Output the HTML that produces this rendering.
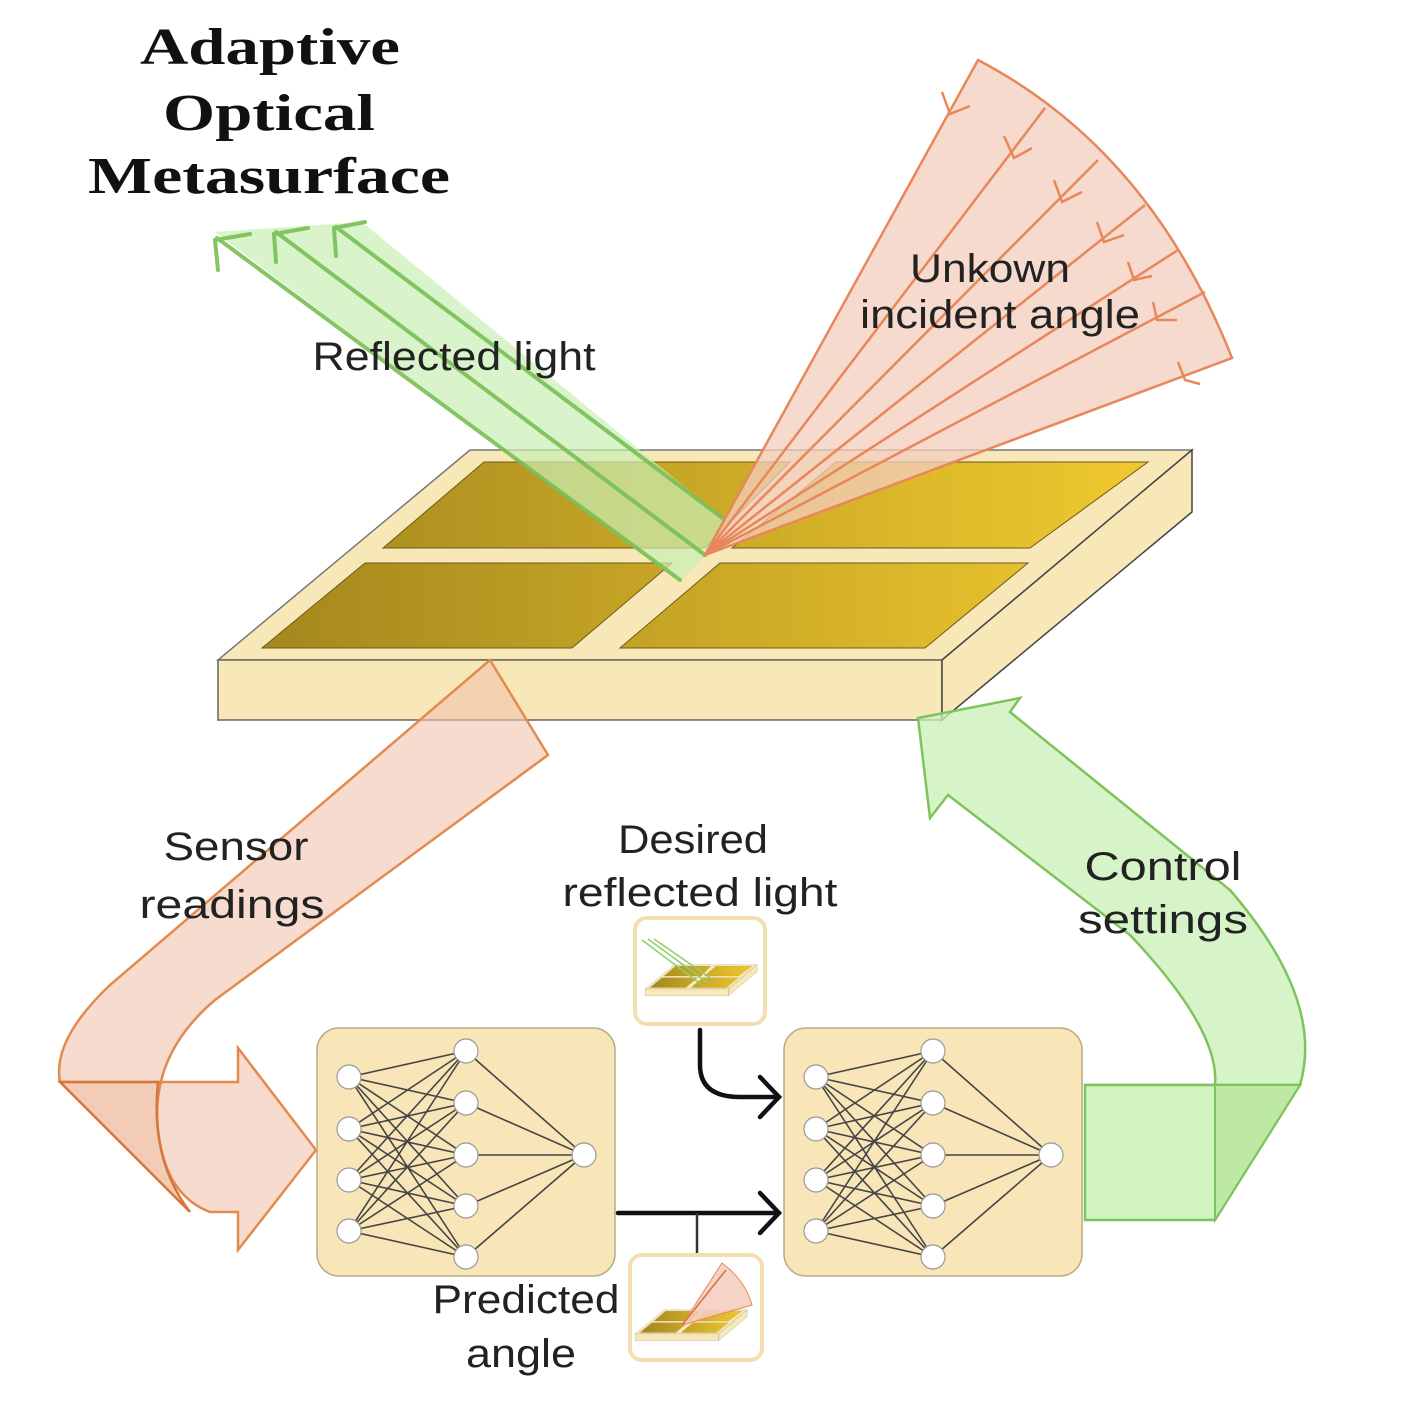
<!DOCTYPE html>
<html><head><meta charset="utf-8"><style>html,body{margin:0;padding:0;background:#fff}svg{display:block}</style></head>
<body>
<svg width="1401" height="1401" viewBox="0 0 1401 1401" xmlns="http://www.w3.org/2000/svg">
<defs>
<linearGradient id="goldU" x1="262" x2="1148" y1="0" y2="0" gradientUnits="userSpaceOnUse">
<stop offset="0" stop-color="#a4871e"/><stop offset="1" stop-color="#f0c92e"/></linearGradient>
<g id="slab">
<polygon points="470,450 1192,450 942,660 218,660" fill="#f8e7b7" stroke="#777" stroke-width="1.5"/>
<polygon points="218,660 942,660 942,720 218,720" fill="#f8e7b7" stroke="#666" stroke-width="1.5"/>
<polygon points="942,660 1192,450 1192,512 942,720" fill="#f8e7b7" stroke="#444" stroke-width="1.5"/>
<polygon points="484,462 790,462 705,548 383,548" fill="url(#goldU)" stroke="#6a5a20" stroke-width="1"/>
<polygon points="836,462 1148,462 1030,548 732,548" fill="url(#goldU)" stroke="#6a5a20" stroke-width="1"/>
<polygon points="365,563 672,563 572,648 262,648" fill="url(#goldU)" stroke="#6a5a20" stroke-width="1"/>
<polygon points="720,563 1028,563 925,648 620,648" fill="url(#goldU)" stroke="#6a5a20" stroke-width="1"/>
</g>
<g id="nn">
<rect x="317" y="1028" width="298" height="248" rx="22" fill="#f8e6b8" stroke="#b9ab85" stroke-width="1.5"/>
<path stroke="#444" stroke-width="1.6" fill="none" d="
M349,1077L466,1051M349,1077L466,1103M349,1077L466,1155M349,1077L466,1206M349,1077L466,1257
M349,1129L466,1051M349,1129L466,1103M349,1129L466,1155M349,1129L466,1206M349,1129L466,1257
M349,1180L466,1051M349,1180L466,1103M349,1180L466,1155M349,1180L466,1206M349,1180L466,1257
M349,1231L466,1051M349,1231L466,1103M349,1231L466,1155M349,1231L466,1206M349,1231L466,1257
M466,1051L584,1155M466,1103L584,1155M466,1155L584,1155M466,1206L584,1155M466,1257L584,1155"/>
<g fill="#fff" stroke="#999" stroke-width="1.2">
<circle cx="349" cy="1077" r="12"/><circle cx="349" cy="1129" r="12"/><circle cx="349" cy="1180" r="12"/><circle cx="349" cy="1231" r="12"/>
<circle cx="466" cy="1051" r="12"/><circle cx="466" cy="1103" r="12"/><circle cx="466" cy="1155" r="12"/><circle cx="466" cy="1206" r="12"/><circle cx="466" cy="1257" r="12"/>
<circle cx="584" cy="1155" r="12"/></g>
</g>
</defs>

<use href="#slab"/>

<!-- green reflected beam -->
<polygon points="215,232 362,222 725,520 705,555 680,582" fill="#c9efb5" fill-opacity="0.7"/>
<g stroke="#79bf55" stroke-width="4" fill="none" stroke-linecap="round" opacity="0.9">
<line x1="217" y1="238" x2="680" y2="580"/>
<line x1="276" y1="232" x2="705" y2="555"/>
<line x1="336" y1="227" x2="725" y2="520"/>
<polyline points="250,234 215,240 218,270"/>
<polyline points="308,228 274,234 276,262"/>
<polyline points="365,222 334,228 336,256"/>
</g>

<!-- orange fan -->
<path d="M705,555 L978,60 Q1150,150 1232,358 Z" fill="#f3cdbd" fill-opacity="0.75" stroke="#e8875a" stroke-width="2.5"/>
<g stroke="#e8875a" stroke-width="2.5" fill="none">
<line x1="705" y1="555" x2="1045" y2="108"/>
<line x1="705" y1="555" x2="1098" y2="160"/>
<line x1="705" y1="555" x2="1145" y2="205"/>
<line x1="705" y1="555" x2="1178" y2="250"/>
<line x1="705" y1="555" x2="1205" y2="292"/>
<polyline points="942,92 950,114 970,106"/>
<polyline points="1004,136 1014,158 1032,148"/>
<polyline points="1054,180 1062,202 1082,192"/>
<polyline points="1097,222 1104,242 1124,235"/>
<polyline points="1128,262 1134,280 1152,276"/>
<polyline points="1153,302 1157,320 1177,320"/>
<polyline points="1178,362 1185,380 1200,384"/>
</g>

<!-- sensor readings arrow -->
<path d="M490,660 L548,755 L215,1000 Q150,1055 158,1130 Q165,1195 210,1212 L238,1212 L238,1250 L316,1150 L238,1048 L238,1082 L60,1082 Q52,1040 110,985 Z" fill="#f0c3ae" fill-opacity="0.6" stroke="#e38a4e" stroke-width="2.5"/>
<path d="M60,1082 L158,1082 Q150,1160 190,1212 Z" fill="#e9a27c" fill-opacity="0.55" stroke="#d8763a" stroke-width="2.5"/>

<!-- NNs -->
<use href="#nn"/>
<use href="#nn" transform="translate(467,0)"/>

<!-- control settings arrow -->
<path d="M1085,1085 L1300,1085 Q1325,1000 1230,890 L1010,712 L1020,698 L918,718 L930,818 L948,795 L1130,935 Q1220,1030 1215,1085 Z" fill="#c9efb5" fill-opacity="0.75" stroke="#7cc45b" stroke-width="2.5"/>
<path d="M1085,1085 L1300,1085 L1215,1220 L1085,1220 Z" fill="#d2f2c0" stroke="#7cc45b" stroke-width="2.5"/>
<path d="M1215,1085 L1300,1085 L1215,1220 Z" fill="#bde9a3" stroke="#7cc45b" stroke-width="2"/>

<!-- connectors -->
<g stroke="#111" stroke-width="4.5" fill="none" stroke-linecap="round">
<path d="M700,1030 L700,1065 Q700,1097 740,1097 L778,1097"/>
<polyline points="760,1077 779,1097 760,1117"/>
<line x1="618" y1="1213" x2="779" y2="1213"/>
<polyline points="760,1193 779,1213 760,1233"/>
</g>
<line x1="697" y1="1213" x2="697" y2="1253" stroke="#333" stroke-width="2.5"/>

<!-- thumbnails -->
<rect x="635" y="918" width="130" height="106" rx="12" fill="#fff" stroke="#f2dfb0" stroke-width="4"/>
<g transform="translate(620,913) scale(0.115)"><use href="#slab"/></g>
<g stroke="#8bd06a" stroke-width="1.5" fill="none"><line x1="642" y1="940" x2="702" y2="985"/><line x1="648" y1="939" x2="708" y2="983"/><line x1="654" y1="939" x2="712" y2="979"/></g>
<rect x="630" y="1255" width="132" height="105" rx="12" fill="#fff" stroke="#f2dfb0" stroke-width="4"/>
<g transform="translate(610,1258) scale(0.115)"><use href="#slab"/></g>
<path d="M682,1325 L722,1263 Q745,1280 752,1305 Z" fill="#f3cdbd" fill-opacity="0.85" stroke="#e8875a" stroke-width="1"/>
<line x1="682" y1="1325" x2="726" y2="1270" stroke="#d9703e" stroke-width="1.5"/>

<!-- texts -->
<g font-family="Liberation Serif, serif" font-weight="bold" font-size="52" text-anchor="middle" fill="#111" lengthAdjust="spacingAndGlyphs">
<text x="270" y="64" textLength="260" lengthAdjust="spacingAndGlyphs">Adaptive</text>
<text x="269" y="130" textLength="212" lengthAdjust="spacingAndGlyphs">Optical</text>
<text x="269" y="193" textLength="362" lengthAdjust="spacingAndGlyphs">Metasurface</text>
</g>
<g font-family="Liberation Sans, sans-serif" font-size="40" fill="#222" text-anchor="middle">
<text x="454" y="370" textLength="283" lengthAdjust="spacingAndGlyphs">Reflected light</text>
<text x="990" y="282" textLength="160" lengthAdjust="spacingAndGlyphs">Unkown</text>
<text x="1000" y="328" textLength="280" lengthAdjust="spacingAndGlyphs">incident angle</text>
<text x="236" y="860" textLength="145" lengthAdjust="spacingAndGlyphs">Sensor</text>
<text x="232" y="918" textLength="185" lengthAdjust="spacingAndGlyphs">readings</text>
<text x="693" y="853" textLength="150" lengthAdjust="spacingAndGlyphs">Desired</text>
<text x="700" y="906" textLength="275" lengthAdjust="spacingAndGlyphs">reflected light</text>
<text x="1163" y="880" textLength="157" lengthAdjust="spacingAndGlyphs">Control</text>
<text x="1163" y="933" textLength="170" lengthAdjust="spacingAndGlyphs">settings</text>
<text x="526" y="1313" textLength="187" lengthAdjust="spacingAndGlyphs">Predicted</text>
<text x="521" y="1367" textLength="110" lengthAdjust="spacingAndGlyphs">angle</text>
</g>
</svg>
</body></html>
